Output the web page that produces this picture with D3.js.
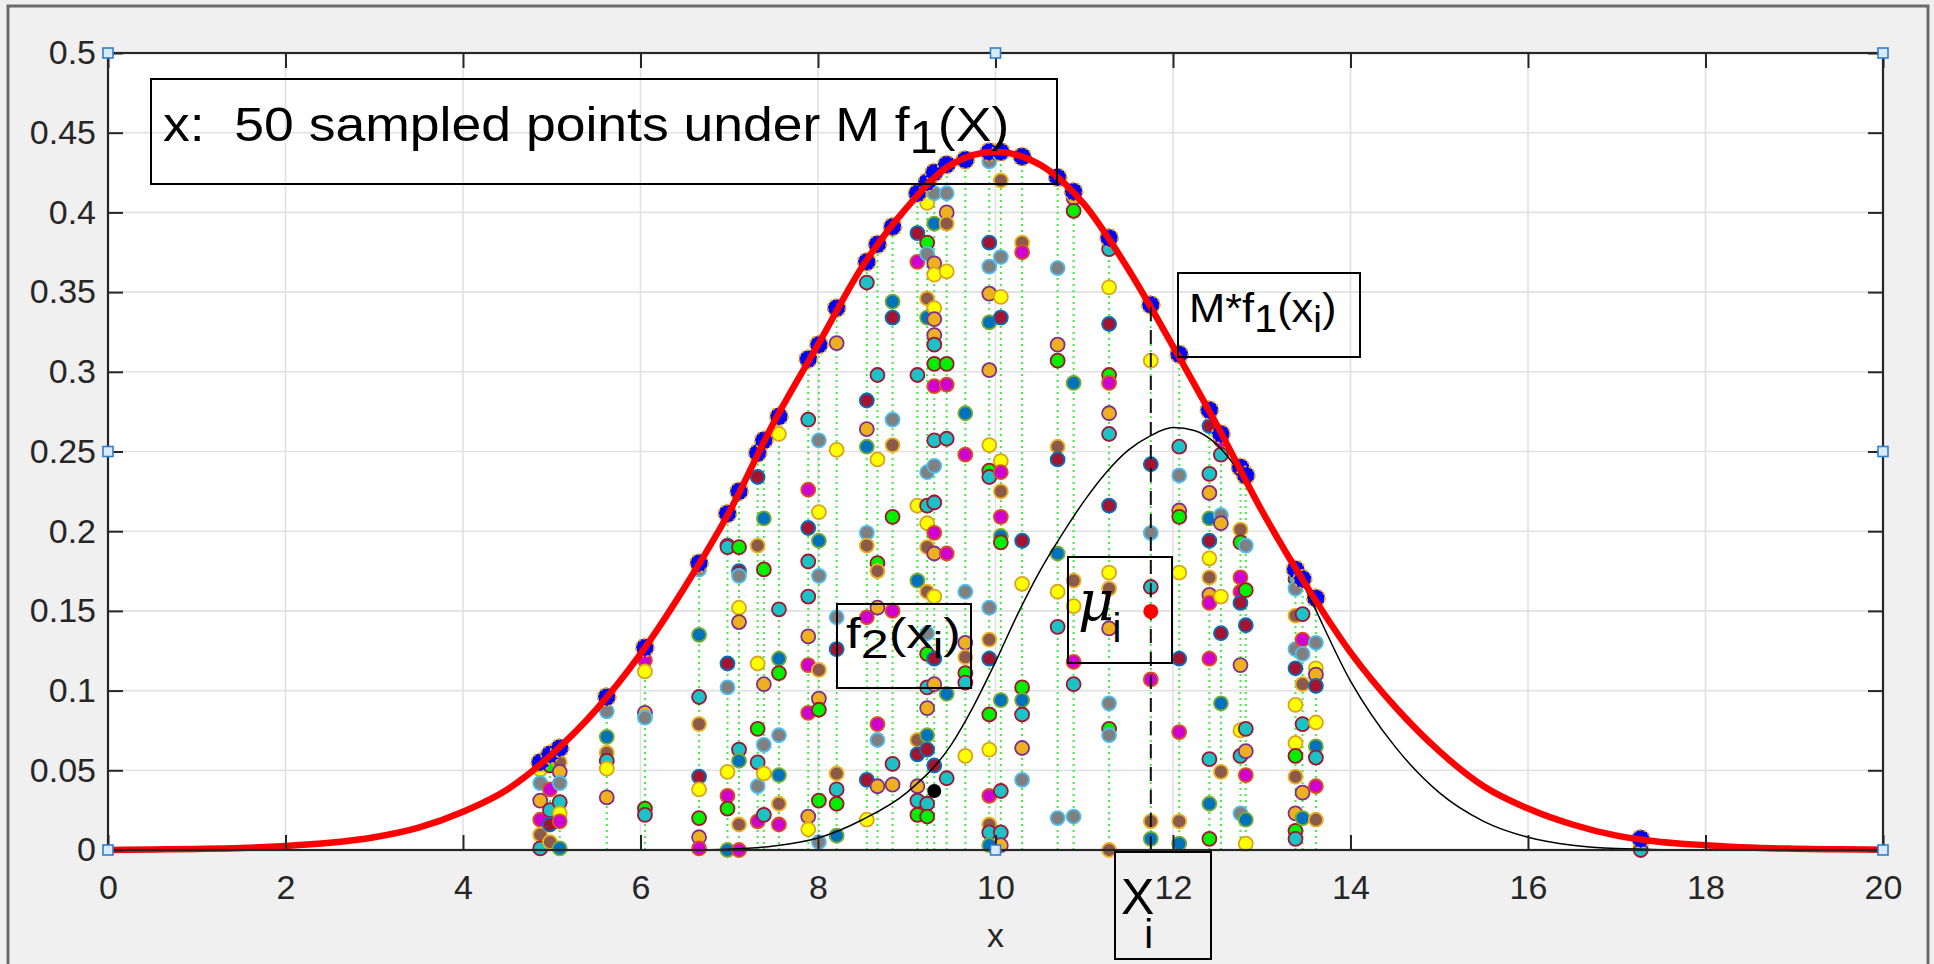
<!DOCTYPE html>
<html><head><meta charset="utf-8">
<script src="https://cdn.jsdelivr.net/npm/d3@7"></script>
<style>
body{margin:0;background:#f0f0f0;overflow:hidden;}
svg{display:block;}
text{font-family:"Liberation Sans",Arial,Helvetica,sans-serif;fill:#262626;}
</style>
</head><body>
<svg id="chart" width="1934" height="964"></svg>
<script>
// ---------------- data ----------------
const xTicks = [0,2,4,6,8,10,12,14,16,18,20];
const xTickLabels = ["0","2","4","6","8","10","12","14","16","18","20"];
const yTicks = [0,0.05,0.1,0.15,0.2,0.25,0.3,0.35,0.4,0.45,0.5];
const yTickLabels = ["0","0.05","0.1","0.15","0.2","0.25","0.3","0.35","0.4","0.45","0.5"];

// red curve  M*f1(x)
const curveX = [0,0.5,1,1.5,2,2.5,3,3.5,4,4.5,5,5.5,6,6.5,7,7.5,8,8.5,9,9.5,10,10.5,11,11.5,12,12.5,13,13.5,14,14.5,15,15.5,16,16.5,17,17.5,18,18.5,19,19.5,20];
const curveM = [0,0.0003,0.0007,0.0013,0.0025,0.0045,0.008,0.014,0.024,0.038,0.060,0.088,0.123,0.165,0.212,0.268,0.317,0.366,0.403,0.430,0.438,0.430,0.405,0.364,0.316,0.266,0.213,0.166,0.124,0.090,0.062,0.040,0.026,0.016,0.009,0.005,0.003,0.0015,0.0008,0.0004,0.0002];

// black curve f2(x)
const f2X = [6.5,7,7.5,8,8.5,9,9.5,9.75,10,10.25,10.5,10.75,11,11.25,11.5,11.75,12,12.25,12.5,12.75,13,13.25,13.5,14,14.5,15,15.5,16,16.5,17,18,19,20];
const f2Y = [0,0.0005,0.0025,0.0075,0.019,0.036,0.066,0.090,0.118,0.148,0.175,0.198,0.219,0.237,0.251,0.260,0.265,0.263,0.254,0.237,0.215,0.190,0.163,0.106,0.065,0.036,0.018,0.008,0.003,0.001,0,0,0];

// sampled x_i and M*f1(x_i)
const sampleX   = [4.87,4.98,5.09,5.62,6.05,6.66,6.98,7.11,7.32,7.39,7.56,7.89,8.01,8.21,8.55,8.67,8.84,9.12,9.23,9.31,9.45,9.66,9.93,10.06,10.30,10.70,10.88,11.28,11.75,12.07,12.41,12.54,12.76,12.82,13.38,13.46,13.61,17.27];
const sampleTop = [0.055,0.060,0.064,0.096,0.127,0.180,0.211,0.225,0.249,0.257,0.272,0.308,0.317,0.340,0.369,0.380,0.391,0.412,0.419,0.425,0.430,0.433,0.438,0.438,0.435,0.422,0.413,0.384,0.342,0.311,0.276,0.261,0.240,0.235,0.176,0.170,0.158,0.007];

// uniform draws under the curve for each x_i (height, colour class)
const dotY = [
 [0.0505,0.042,0.031,0.019,0.0096,0.001],
 [0.053,0.038,0.025,0.016,0.005],
 [0.055,0.049,0.042,0.030,0.023,0.018,0.001],
 [0.087,0.071,0.061,0.056,0.051,0.033],
 [0.119,0.112,0.086,0.083,0.026,0.022],
 [0.176,0.135,0.096,0.079,0.046,0.038,0.020,0.008,0.001],
 [0.191,0.190,0.117,0.102,0.049,0.034,0.026,0.0],
 [0.190,0.175,0.172,0.152,0.143,0.063,0.056,0.016,0.0],
 [0.234,0.191,0.117,0.076,0.055,0.040,0.018],
 [0.208,0.176,0.104,0.066,0.048,0.022],
 [0.261,0.151,0.120,0.111,0.072,0.047,0.029,0.016],
 [0.270,0.226,0.202,0.181,0.159,0.134,0.116,0.086,0.021,0.013],
 [0.257,0.212,0.194,0.172,0.113,0.095,0.088,0.031,0.005],
 [0.318,0.251,0.146,0.126,0.048,0.038,0.029,0.009],
 [0.356,0.282,0.264,0.253,0.199,0.191,0.146,0.044,0.019],
 [0.298,0.245,0.180,0.175,0.152,0.079,0.069,0.040],
 [0.344,0.334,0.270,0.254,0.209,0.150,0.054,0.041],
 [0.387,0.369,0.298,0.216,0.169,0.069,0.060,0.040,0.031,0.022],
 [0.406,0.381,0.374,0.346,0.334,0.237,0.216,0.205,0.190,0.162,0.136,0.123,0.102,0.089,0.072,0.063,0.029,0.021],
 [0.412,0.393,0.368,0.361,0.340,0.333,0.323,0.317,0.305,0.291,0.257,0.241,0.218,0.199,0.186,0.159,0.120,0.104,0.053,0.037],
 [0.412,0.400,0.393,0.363,0.305,0.292,0.258,0.186,0.098,0.045],
 [0.274,0.248,0.162,0.130,0.121,0.111,0.105,0.059],
 [0.432,0.381,0.366,0.349,0.331,0.301,0.254,0.238,0.234,0.152,0.132,0.120,0.085,0.063,0.034,0.016,0.011,0.003],
 [0.420,0.372,0.347,0.334,0.244,0.237,0.225,0.209,0.197,0.193,0.094,0.037,0.011,0.003],
 [0.381,0.375,0.194,0.167,0.102,0.094,0.085,0.064,0.044],
 [0.365,0.317,0.307,0.253,0.245,0.186,0.162,0.140,0.020],
 [0.409,0.401,0.293,0.169,0.153,0.118,0.104,0.021],
 [0.377,0.353,0.330,0.298,0.293,0.274,0.261,0.216,0.174,0.164,0.139,0.092,0.076,0.072,0.0],
 [0.307,0.242,0.199,0.165,0.107,0.018,0.007],
 [0.253,0.235,0.213,0.209,0.174,0.120,0.074,0.018,0.004],
 [0.266,0.236,0.224,0.208,0.194,0.183,0.171,0.160,0.155,0.120,0.057,0.029,0.007],
 [0.257,0.248,0.210,0.205,0.159,0.136,0.092,0.049],
 [0.201,0.193,0.171,0.162,0.155,0.116,0.075,0.059,0.023],
 [0.191,0.163,0.141,0.076,0.062,0.047,0.019,0.004],
 [0.170,0.164,0.147,0.126,0.114,0.091,0.067,0.059,0.046,0.023,0.012,0.007],
 [0.148,0.132,0.123,0.104,0.079,0.036,0.020],
 [0.130,0.114,0.110,0.103,0.080,0.065,0.058,0.040,0.019],
 [0.004,0.002,0.0]
];
const dotCls = [
 "YGOMBC","LMCRB","BOGCYMT","GTBCYO","MYOGLC","GTCBRYLOM","OCRGYMLT","LRGYOCTBM","RBYLCGM","TLOGYC",
 "YCTLGTBM","CMRCCOMMOY","GYTGBOLLG","OYGRBCLT","CROTGBMRY","CYLBOMGO","TRGBLMCO","RMCYTBROCL","YLGBTGCYBBGLCOTRCL","GTOYYOOCLMCGCMOYROR",
 "GOBYLMCMTC","TMGOBLCY","GRGOTOYLCGBRLYMBCT","BGYRYMBMTLTCCO","BMRYLTCOG","GOLBRTYCG","OLTBYMCG","CYRLMOCRYBOGLGB","YRGCMBT","CGOLYRMBT",
 "RCOTRYBOMMCTL","MCGOYRTB","BLMMROYCG","GLRCOMTY","CGBGRYYLBOLC","CMGBCOT","GYORYTCMB","GBC"
];
const muX = 11.75, muY = 0.1497;           // red point (x_i, u_i)
const handleX = [0,10,20,0,20,0,10,20];    // selection handles
const handleY = [0.5,0.5,0.5,0.25,0.25,0,0,0];

// ---------------- drawing ----------------
const PL = 108, PR = 1883, PT = 53, PB = 850;
const svg = d3.select("#chart");
const xs = d3.scaleLinear().domain([0,20]).range([PL,PR]);
const ys = d3.scaleLinear().domain([0,0.5]).range([PB,PT]);

const fillOf = {Y:"#ffff00",G:"#808080",O:"#edb120",M:"#d000d0",B:"#8c5a4b",C:"#1cc3c6",L:"#00f000",R:"#a2142f",T:"#0072bd"};
const edgeOf = {Y:"#d9a520",G:"#4dbeee",O:"#7e2f8e",M:"#d95319",B:"#edb120",C:"#a2142f",L:"#a2142f",R:"#0072bd",T:"#77ac30"};

// figure background & frame
svg.append("rect").attr("x",8).attr("y",6).attr("width",1920).attr("height",990)
  .attr("fill","#f0f0f0").attr("stroke","#6b6b6b").attr("stroke-width",3);
svg.append("rect").attr("x",PL).attr("y",PT).attr("width",PR-PL).attr("height",PB-PT).attr("fill","#ffffff");

// grid
const grid = svg.append("g");
grid.selectAll("line.gx").data(xTicks.slice(1,-1)).join("line")
  .attr("x1",d=>xs(d)).attr("x2",d=>xs(d)).attr("y1",PT).attr("y2",PB)
  .attr("stroke","#e1e1e1").attr("stroke-width",1.6);
grid.selectAll("line.gy").data(yTicks.slice(1,-1)).join("line")
  .attr("x1",PL).attr("x2",PR).attr("y1",d=>ys(d)).attr("y2",d=>ys(d))
  .attr("stroke","#e1e1e1").attr("stroke-width",1.6);

// green dotted lines from 0 to M f1(x_i)
const plotG = svg.append("g");
plotG.selectAll("line.vl").data(sampleX).join("line")
  .attr("x1",d=>xs(d)).attr("x2",d=>xs(d)).attr("y1",ys(0)).attr("y2",(d,i)=>ys(sampleTop[i]))
  .attr("stroke","#3cf03c").attr("stroke-width",2).attr("stroke-dasharray","2,4");

// colored uniform points
const dots = [];
sampleX.forEach((sx,i)=>{ dotY[i].forEach((v,j)=>dots.push({x:sx,y:v,c:dotCls[i][j]})); });
plotG.selectAll("circle.dot").data(dots).join("circle")
  .attr("cx",d=>xs(d.x)).attr("cy",d=>ys(d.y)).attr("r",7)
  .attr("fill",d=>fillOf[d.c]).attr("stroke",d=>edgeOf[d.c]).attr("stroke-width",1.8);

// blue points on the envelope
const tops = svg.append("g");
tops.selectAll("circle").data(sampleX).join("circle")
  .attr("cx",d=>xs(d)).attr("cy",(d,i)=>ys(sampleTop[i])).attr("r",9)
  .attr("fill","#0000ff").attr("stroke","#e8a317").attr("stroke-width",1.8)
  .attr("stroke-dasharray","3,2");

// black curve f2
const lineGen = d3.line().x(d=>xs(d[0])).y(d=>ys(d[1])).curve(d3.curveMonotoneX);
svg.append("path").datum(f2X.map((v,i)=>[v,f2Y[i]])).attr("d",lineGen)
  .attr("fill","none").attr("stroke","#000").attr("stroke-width",1.5);

// red curve M f1
svg.append("path").datum(curveX.map((v,i)=>[v,curveM[i]])).attr("d",lineGen)
  .attr("fill","none").attr("stroke","#ff0000").attr("stroke-width",6.5);

// dashed x_i line
const mi = sampleX.indexOf(muX);
svg.append("line").attr("x1",xs(muX)).attr("x2",xs(muX)).attr("y1",ys(0)).attr("y2",ys(sampleTop[mi]))
  .attr("stroke","#111").attr("stroke-width",2).attr("stroke-dasharray","14,9");
svg.append("circle").attr("cx",xs(muX)).attr("cy",ys(muY)).attr("r",7.5).attr("fill","#ff0000");

// axes (ticks inward)
const axG = svg.append("g");
axG.append("g").attr("transform",`translate(0,${PB})`)
  .call(d3.axisBottom(xs).tickValues(xTicks).tickFormat((d,i)=>xTickLabels[i]).tickSize(-15).tickPadding(25));
axG.append("g").attr("transform",`translate(0,${PT})`)
  .call(d3.axisTop(xs).tickValues(xTicks).tickFormat("").tickSize(-15));
axG.append("g").attr("transform",`translate(${PL},0)`)
  .call(d3.axisLeft(ys).tickValues(yTicks).tickFormat((d,i)=>yTickLabels[i]).tickSize(-15).tickPadding(12));
axG.append("g").attr("transform",`translate(${PR},0)`)
  .call(d3.axisRight(ys).tickValues(yTicks).tickFormat("").tickSize(-15));
axG.selectAll(".domain").remove();
axG.selectAll(".tick line").attr("stroke","#262626").attr("stroke-width",2);
axG.selectAll(".tick text").attr("font-size",34).attr("fill","#262626")
  .style("font-family","'Liberation Sans',Arial,sans-serif");
axG.append("rect").attr("x",PL).attr("y",PT).attr("width",PR-PL).attr("height",PB-PT)
  .attr("fill","none").attr("stroke","#262626").attr("stroke-width",2.2);

// selection handles
svg.selectAll("rect.h").data(handleX).join("rect").attr("class","h")
  .attr("x",d=>xs(d)-5).attr("y",(d,i)=>ys(handleY[i])-5).attr("width",10).attr("height",10)
  .attr("fill","#d9ebf9").attr("stroke","#2e7dd1").attr("stroke-width",1.6);

// axis label
svg.append("text").attr("x",(PL+PR)/2).attr("y",947).attr("text-anchor","middle")
  .attr("font-size",34).text("x");

// annotation boxes
function box(x0,y0,x1,y1){
  svg.append("rect").attr("x",x0).attr("y",y0).attr("width",x1-x0).attr("height",y1-y0)
    .attr("fill","none").attr("stroke","#000").attr("stroke-width",2);
}
function rich(px,py,size,sx,parts){
  const t = svg.append("text").attr("transform",`translate(${px},${py}) scale(${sx},1)`)
    .attr("font-size",size).style("fill","#000");
  parts.forEach(p=>{
    const s = t.append("tspan").text(p.t);
    if(p.sub){ s.attr("font-size",size*p.sub).attr("dy",size*0.24); }
    if(p.up){ s.attr("dy",-size*0.24); }
  });
  return t;
}
box(151,79,1057,184);
rich(163,141,48,1.115,[{t:"x:\u00a0\u00a050 sampled points under M f"},{t:"1",sub:0.95},{t:"(X)",up:1}]);

box(1178,273,1360,357);
rich(1189,322,41,1.06,[{t:"M*f"},{t:"1",sub:0.95},{t:"(x",up:1},{t:"i",sub:0.9},{t:")",up:1}]);

box(837,604,971,688);
rich(846,648,42,1.26,[{t:"f"},{t:"2",sub:0.95},{t:"(x",up:1},{t:"i",sub:0.9},{t:")",up:1}]);

box(1068,557,1172,663);
const muT = svg.append("text").attr("x",1078).attr("y",620).style("fill","#000");
muT.append("tspan").attr("font-size",56).attr("font-style","italic")
  .style("font-family","'DejaVu Serif',serif").text("μ");
muT.append("tspan").attr("font-size",40).attr("dx",-2).attr("dy",22).text("i");

box(1115,852,1211,959);
const xiT = svg.append("text").attr("x",1121).attr("y",914).style("fill","#000");
xiT.append("tspan").attr("font-size",50).text("X");
xiT.append("tspan").attr("font-size",40).attr("dx",-10).attr("dy",34).text("i");
</script>
</body></html>
